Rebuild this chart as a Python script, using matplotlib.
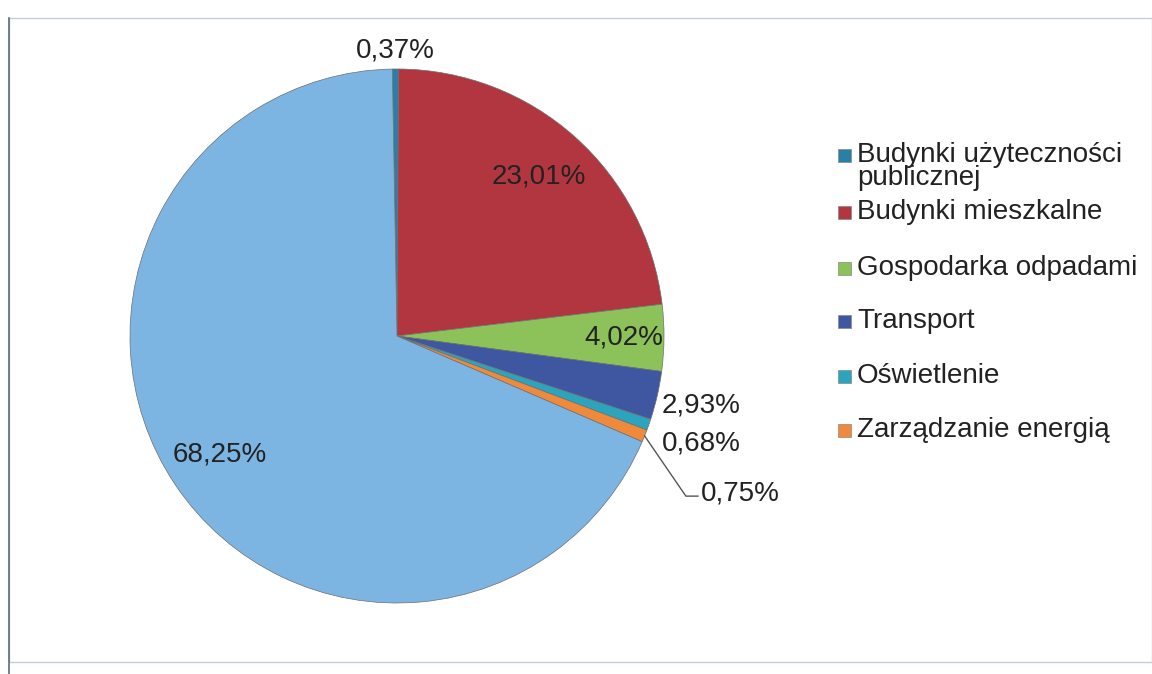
import numpy as np
import matplotlib
matplotlib.use("Agg")
import matplotlib.pyplot as plt
from matplotlib.patches import Rectangle

plt.rcParams.update({
    "font.family": ["Liberation Sans", "DejaVu Sans"],
    "font.size": 20,
})

# -------- data --------
categories = ["Budynki użyteczności\npublicznej", "Budynki mieszkalne",
              "Gospodarka odpadami", "Transport", "Oświetlenie",
              "Zarządzanie energią", "Inne"]
shares = [0.37, 23.01, 4.02, 2.93, 0.68, 0.75, 68.25]
pct_labels = ["0,37%", "23,01%", "4,02%", "2,93%", "0,68%", "0,75%", "68,25%"]
colors = ["#2b7fa6", "#b2363f", "#8dc25a", "#3f57a0", "#2ba4bd",
          "#ef8a3c", "#7cb5e2"]

# label radius (in pie radii) per slice, None = leader line label
label_r = [1.07, 0.80, 0.85, 1.17, 1.21, None, 0.80]

W, H = 1152, 674
fig = plt.figure(figsize=(W / 100, H / 100), dpi=100)

# pie centre (397, 336) px, radius 267 px
cx, cy, r = 397, 336, 267
ax = fig.add_axes([(cx - r) / W, (H - cy - r) / H, 2 * r / W, 2 * r / H])

wedges, _ = ax.pie(shares, colors=colors, startangle=91, counterclock=False,
                   radius=1.0,
                   wedgeprops=dict(edgecolor="#6e6e6e", linewidth=0.5))
ax.set_xlim(-1, 1)
ax.set_ylim(-1, 1)
ax.set_aspect("equal")

for w, lab, rr in zip(wedges, pct_labels, label_r):
    mid = np.deg2rad((w.theta1 + w.theta2) / 2)
    if rr is None:
        # leader line label
        x0, y0 = np.cos(mid), np.sin(mid)
        ex, ey = 1.237 * np.cos(np.deg2rad(-29)), 1.237 * np.sin(np.deg2rad(-29))
        ax.plot([x0, ex, ex + 0.045], [y0, ey, ey], color="#555555",
                lw=1.0, clip_on=False)
        ax.text(ex + 0.055, ey + 0.01, lab, ha="left", va="center",
                color="#222222")
    else:
        ax.text(rr * np.cos(mid), rr * np.sin(mid), lab, ha="center",
                va="center", color="#222222")

# -------- legend (six entries, drawn manually) --------
legend_rows = [155, 212, 268, 321, 376, 430]
for i, y in enumerate(legend_rows):
    fig.patches.append(Rectangle((838 / W, (H - y - 7) / H), 13 / W, 13 / H,
                                 transform=fig.transFigure,
                                 facecolor=colors[i], edgecolor="#888888",
                                 linewidth=0.5))
    if "\n" in categories[i]:
        fig.text(857 / W, (H - y + 13) / H, categories[i], ha="left",
                 va="top", linespacing=0.85, color="#222222")
    else:
        fig.text(857 / W, (H - y) / H, categories[i], ha="left",
                 va="center", color="#222222")

# -------- scanned frame --------
fig.patches.append(Rectangle((9 / W, 12 / H), (W - 9) / W, (H - 30) / H,
                             transform=fig.transFigure, fill=False,
                             edgecolor="#c4ced4", linewidth=1.0))
fig.lines.append(plt.Line2D([9 / W, 9 / W], [0, (H - 18) / H],
                            transform=fig.transFigure, color="#5b6e7a",
                            linewidth=1.2))

fig.savefig("out.png", dpi=100, facecolor="white")
